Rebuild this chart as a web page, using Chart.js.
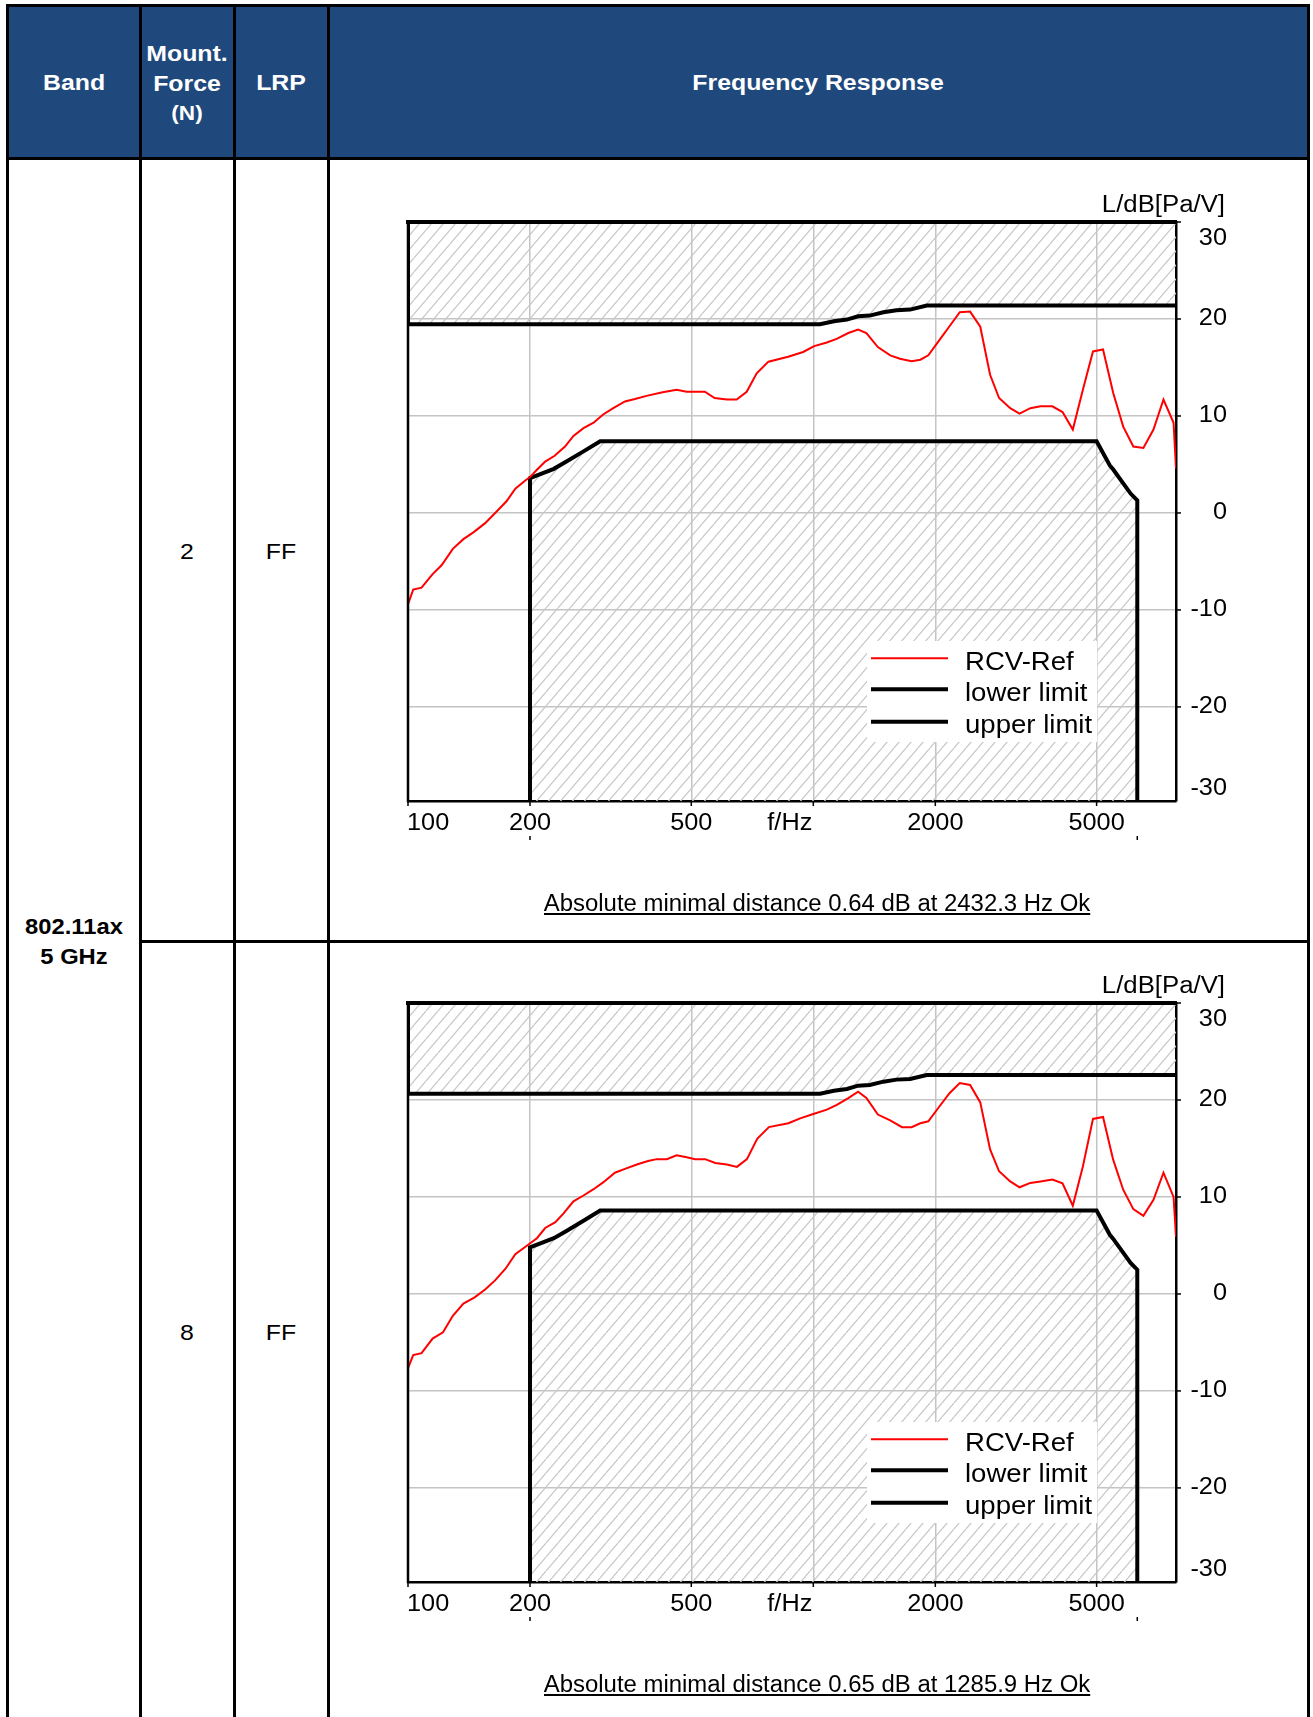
<!DOCTYPE html>
<html>
<head>
<meta charset="utf-8">
<title>Frequency Response</title>
<script src="https://cdn.jsdelivr.net/npm/chart.js@4.4.1/dist/chart.umd.min.js"></script>
<style>
  html, body { margin: 0; padding: 0; background: #fff; }
  body { width: 1313px; height: 1717px; position: relative; overflow: hidden;
         font-family: "Liberation Sans", Arial, sans-serif; }
  .hdr { position: absolute; left: 6px; top: 4px; width: 1304px; height: 156px; background: #1f497d; }
  .ln { position: absolute; background: #000; }
  .t { position: absolute; white-space: nowrap; }
  .cap { position: absolute; white-space: nowrap; font-size: 23px; line-height: 23px; color: #000;
         text-decoration: underline; text-decoration-thickness: 1.5px; text-underline-offset: 2px; }
  canvas { position: absolute; }
</style>
</head>
<body>
<div class="hdr"></div>

<canvas id="fr1" width="976" height="780" style="left:330px;top:160px;width:976px;height:780px;"></canvas>
<canvas id="fr2" width="976" height="780" style="left:330px;top:941px;width:976px;height:780px;"></canvas>

<!-- table grid -->
<div class="ln" style="left:6px;top:4px;width:1304px;height:3px;"></div>
<div class="ln" style="left:6px;top:157px;width:1304px;height:3px;"></div>
<div class="ln" style="left:6px;top:4px;width:3px;height:1713px;"></div>
<div class="ln" style="left:1307px;top:4px;width:3px;height:1713px;"></div>
<div class="ln" style="left:139px;top:4px;width:3px;height:1713px;"></div>
<div class="ln" style="left:233px;top:4px;width:3px;height:1713px;"></div>
<div class="ln" style="left:327px;top:4px;width:3px;height:1713px;"></div>
<div class="ln" style="left:139px;top:940px;width:1171px;height:3px;"></div>

<!-- header -->
<div class="t" style="left:73.5px;top:72.1px;font-size:22px;line-height:22px;font-weight:700;color:#fff;transform:translateX(-50%) scaleX(1.13);">Band</div>
<div class="t" style="left:187px;top:42.9px;font-size:22px;line-height:22px;font-weight:700;color:#fff;transform:translateX(-50%) scaleX(1.13);">Mount.</div>
<div class="t" style="left:187px;top:72.6px;font-size:22px;line-height:22px;font-weight:700;color:#fff;transform:translateX(-50%) scaleX(1.13);">Force</div>
<div class="t" style="left:187px;top:103.1px;font-size:20px;line-height:20px;font-weight:700;color:#fff;transform:translateX(-50%) scaleX(1.13);">(N)</div>
<div class="t" style="left:281px;top:72.1px;font-size:22px;line-height:22px;font-weight:700;color:#fff;transform:translateX(-50%) scaleX(1.13);">LRP</div>
<div class="t" style="left:818px;top:72.1px;font-size:22px;line-height:22px;font-weight:700;color:#fff;transform:translateX(-50%) scaleX(1.13);">Frequency Response</div>

<!-- body cells -->
<div class="t" style="left:187px;top:540.7px;font-size:22px;line-height:22px;color:#000;transform:translateX(-50%) scaleX(1.13);">2</div>
<div class="t" style="left:281px;top:540.7px;font-size:22px;line-height:22px;color:#000;transform:translateX(-50%) scaleX(1.13);">FF</div>
<div class="t" style="left:187px;top:1322.4px;font-size:22px;line-height:22px;color:#000;transform:translateX(-50%) scaleX(1.13);">8</div>
<div class="t" style="left:281px;top:1322.4px;font-size:22px;line-height:22px;color:#000;transform:translateX(-50%) scaleX(1.13);">FF</div>
<div class="t" style="left:73.5px;top:916.4px;font-size:22px;line-height:22px;font-weight:700;color:#000;transform:translateX(-50%) scaleX(1.08);">802.11ax</div>
<div class="t" style="left:73.5px;top:945.7px;font-size:22px;line-height:22px;font-weight:700;color:#000;transform:translateX(-50%) scaleX(1.08);">5 GHz</div>

<!-- result captions -->
<div class="cap" style="left:817px;top:892.2px;transform:translateX(-50%) scaleX(1.04);">Absolute minimal distance 0.64 dB at 2432.3 Hz Ok</div>
<div class="cap" style="left:817px;top:1673px;transform:translateX(-50%) scaleX(1.04);">Absolute minimal distance 0.65 dB at 1285.9 Hz Ok</div>

<script>
// ---- axis definitions ----
const xTickValues = [100, 200, 500, 1000, 2000, 5000];
const xTickLabels = ['100', '200', '500', 'f/Hz', '2000', '5000'];
const yTickValues = [-30, -20, -10, 0, 10, 20, 30];
const yAxisTitle = 'L/dB[Pa/V]';
const seriesNames = ['RCV-Ref', 'lower limit', 'upper limit'];

// ---- measured response, 2 N mounting force ----
const rcvFreq1 = [
  100, 103, 108, 115, 121, 129, 137, 145, 155, 165,
  175, 184, 194, 200, 208, 218, 230, 244, 256, 271,
  287, 303, 321, 343, 363, 390, 425, 460, 487, 540,
  571, 612, 647, 685, 725, 775, 867, 944, 1005, 1075,
  1142, 1220, 1290, 1352, 1443, 1548, 1636, 1748, 1837, 1922,
  2036, 2168, 2298, 2437, 2582, 2730, 2873, 3061, 3227, 3432,
  3635, 3889, 4120, 4368, 4625, 4898, 5186, 5493, 5816, 6160,
  6522, 6907, 7311, 7742, 7850
];
const rcvLevel1 = [
  -9.4, -7.9, -7.7, -6.3, -5.4, -3.7, -2.7, -2.0, -1.05, 0.1,
  1.2, 2.5, 3.3, 3.7, 4.45, 5.3, 5.9, 6.85, 7.95, 8.75,
  9.3, 10.15, 10.8, 11.5, 11.75, 12.1, 12.45, 12.7, 12.5, 12.5,
  11.85, 11.7, 11.7, 12.5, 14.4, 15.6, 16.1, 16.6, 17.2, 17.55,
  17.95, 18.55, 18.9, 18.55, 17.1, 16.25, 15.9, 15.65, 15.8, 16.25,
  17.7, 19.25, 20.7, 20.76, 19.2, 14.25, 11.85, 10.8, 10.25, 10.8,
  11.0, 11.0, 10.4, 8.6, 12.7, 16.65, 16.85, 12.4, 8.9, 6.85,
  6.7, 8.6, 11.7, 9.3, 4.6
];

// ---- measured response, 8 N mounting force ----
const rcvFreq2 = [
  100, 103, 108, 115, 122, 129, 137, 146, 155, 164,
  174, 184, 196, 208, 218, 231, 242, 256, 271, 287,
  303, 324, 343, 367, 391, 411, 435, 460, 487, 511,
  541, 573, 612, 648, 686, 727, 777, 868, 928, 1000,
  1080, 1143, 1220, 1290, 1352, 1443, 1548, 1655, 1748, 1837,
  1922, 2036, 2168, 2298, 2437, 2582, 2730, 2873, 3061, 3227,
  3432, 3635, 3889, 4120, 4368, 4625, 4898, 5186, 5493, 5816,
  6160, 6522, 6907, 7311, 7742, 7850
];
const rcvLevel2 = [
  -7.65, -6.3, -6.1, -4.6, -3.95, -2.25, -1.0, -0.35, 0.45, 1.4,
  2.6, 4.1, 4.95, 5.75, 6.8, 7.4, 8.3, 9.55, 10.15, 10.8,
  11.5, 12.5, 12.9, 13.35, 13.7, 13.9, 13.9, 14.3, 14.1, 13.9,
  13.9, 13.5, 13.35, 13.1, 13.9, 16.0, 17.2, 17.6, 18.1, 18.55,
  19.0, 19.5, 20.2, 20.85, 20.2, 18.5, 17.9, 17.2, 17.2, 17.6,
  17.8, 19.2, 20.7, 21.75, 21.55, 19.75, 14.9, 12.65, 11.6, 11.0,
  11.45, 11.6, 11.8, 11.4, 9.1, 13.15, 18.05, 18.25, 13.85, 10.75,
  8.75, 8.05, 9.7, 12.5, 10.0, 5.9
];

// ---- tolerance masks ----
const lowerFreq = [200, 200, 229, 246, 271, 298, 5000, 5390, 5490, 6065, 6300, 6300];
const lowerLevel1 = [-30, 3.6, 4.55, 5.3, 6.35, 7.4, 7.4, 4.9, 4.5, 2.0, 1.3, -30];
const lowerLevel2 = [-30, 4.8, 5.75, 6.5, 7.55, 8.6, 8.6, 6.1, 5.7, 3.2, 2.5, -30];

const upperFreq = [100, 100, 1039, 1124, 1210, 1290, 1378, 1489, 1604, 1733, 1905, 7850];
const upperLevel1 = [30, 19.45, 19.45, 19.76, 19.94, 20.28, 20.35, 20.69, 20.9, 20.97, 21.38, 21.38];
const upperLevel2 = [30, 20.65, 20.65, 20.96, 21.14, 21.48, 21.55, 21.89, 22.1, 22.17, 22.58, 22.58];

const FONT = '"Liberation Sans", Arial, sans-serif';

// diagonal hatching for the out-of-tolerance regions
function hatchPattern() {
  const w = 12, h = 14;
  const c = document.createElement('canvas');
  c.width = w; c.height = h;
  const g = c.getContext('2d');
  g.strokeStyle = '#c8c8c8';
  g.lineWidth = 1.2;
  g.beginPath();
  g.moveTo(-w, h); g.lineTo(0, 0);
  g.moveTo(0, h); g.lineTo(w, 0);
  g.moveTo(w, h); g.lineTo(2 * w, 0);
  g.stroke();
  return g.createPattern(c, 'repeat');
}

function pts(xs, ys) { return xs.map((x, i) => ({ x: x, y: ys[i] })); }

function stretchedText(ctx, text, x, y, align, baseline, font, sx) {
  ctx.save();
  ctx.font = font;
  ctx.textAlign = align;
  ctx.textBaseline = baseline;
  ctx.translate(x, y);
  ctx.scale(sx, 1);
  ctx.fillText(text, 0, 0);
  ctx.restore();
}

// frame, tick labels, tick marks and legend
const decor = {
  id: 'decor',
  afterDatasetsDraw(chart) {
    const ctx = chart.ctx;
    const a = chart.chartArea;
    const xs = chart.scales.x, ys = chart.scales.y;
    ctx.save();
    ctx.fillStyle = '#000';
    ctx.strokeStyle = '#000';

    // left axis (thin) and top frame (thick)
    ctx.lineWidth = 2.5;
    ctx.beginPath(); ctx.moveTo(a.left, a.top); ctx.lineTo(a.left, a.bottom + 1); ctx.stroke();
    ctx.lineWidth = 4;
    ctx.beginPath(); ctx.moveTo(a.left - 2, a.top); ctx.lineTo(a.right + 1, a.top); ctx.stroke();

    // x tick marks and labels
    ctx.lineWidth = 1.5;
    const tickFont = '23px ' + FONT;
    xTickValues.forEach((v, i) => {
      const px = xs.getPixelForValue(v);
      ctx.beginPath(); ctx.moveTo(px, a.bottom); ctx.lineTo(px, a.bottom + 5); ctx.stroke();
      const lab = xTickLabels[i];
      if (i === 0) stretchedText(ctx, lab, a.left - 1, a.bottom + 29, 'left', 'alphabetic', tickFont, 1.1);
      else if (lab === 'f/Hz') stretchedText(ctx, lab, px - 1, a.bottom + 29, 'right', 'alphabetic', tickFont, 1.1);
      else stretchedText(ctx, lab, px, a.bottom + 29, 'center', 'alphabetic', tickFont, 1.1);
    });
    // small markers below the mask edges
    const marks = chart.options.plugins.decor.marks;
    ctx.lineWidth = 1.5;
    marks.forEach(v => {
      const px = xs.getPixelForValue(v);
      ctx.beginPath(); ctx.moveTo(px, a.bottom + 35); ctx.lineTo(px, a.bottom + 39); ctx.stroke();
    });

    // y tick marks and labels (right side)
    yTickValues.forEach(v => {
      const py = ys.getPixelForValue(v);
      if (py >= a.top - 1 && py <= a.bottom + 1) {
        ctx.beginPath(); ctx.moveTo(a.right, py); ctx.lineTo(a.right + 5, py); ctx.stroke();
      }
      const ly = Math.min(Math.max(py, a.top + 17), a.bottom - 12);
      stretchedText(ctx, String(v), a.right + 51, ly, 'right', 'middle', tickFont, 1.1);
    });
    stretchedText(ctx, yAxisTitle, a.right + 49, a.top - 10.5, 'right', 'alphabetic', tickFont, 1.12);

    // legend
    const bx = a.right - 309, by = a.top + 419, bw = 230, bh = 101;
    ctx.fillStyle = '#fff';
    ctx.fillRect(bx, by, bw, bh);
    const rows = [17.3, 48.3, 80.7];
    chart.data.datasets.forEach((ds, i) => {
      const ly = by + rows[i];
      ctx.strokeStyle = ds.borderColor;
      ctx.lineWidth = ds.borderWidth;
      ctx.beginPath(); ctx.moveTo(bx + 4, ly); ctx.lineTo(bx + 81, ly); ctx.stroke();
      ctx.fillStyle = '#000';
      stretchedText(ctx, ds.label, bx + 98, ly + 11.5, 'left', 'alphabetic', '26px ' + FONT, 1.06);
    });
    ctx.restore();
  }
};

function frChart(id, rf, rl, ll, ul) {
  const hatch = hatchPattern();
  return new Chart(document.getElementById(id), {
    type: 'line',
    data: {
      datasets: [
        { label: seriesNames[0], data: pts(rf, rl), borderColor: '#ff0000', borderWidth: 2,
          pointRadius: 0, fill: false, tension: 0 },
        { label: seriesNames[1], data: pts(lowerFreq, ll), borderColor: '#000000', borderWidth: 4,
          pointRadius: 0, fill: 'start', backgroundColor: hatch, tension: 0, borderJoinStyle: 'miter' },
        { label: seriesNames[2], data: pts(upperFreq, ul), borderColor: '#000000', borderWidth: 4,
          pointRadius: 0, fill: 'end', backgroundColor: hatch, tension: 0, borderJoinStyle: 'miter' }
      ]
    },
    options: {
      responsive: false,
      animation: false,
      events: [],
      layout: { padding: { left: 78, top: 62, right: 130, bottom: 139 }, autoPadding: false },
      plugins: {
        legend: { display: false },
        tooltip: { enabled: false },
        decor: { marks: [lowerFreq[0], lowerFreq[lowerFreq.length - 1]] }
      },
      scales: {
        x: {
          type: 'logarithmic', min: 100, max: 7850, position: 'bottom',
          afterBuildTicks: s => { s.ticks = xTickValues.map(v => ({ value: v })); },
          ticks: { display: false },
          grid: { color: '#c4c4c4', lineWidth: 1.5, drawTicks: false },
          border: { display: true, color: '#000', width: 2.5 }
        },
        y: {
          type: 'linear', min: -29.7, max: 30, position: 'right',
          afterBuildTicks: s => { s.ticks = yTickValues.filter(v => v >= -29.7 && v <= 30).map(v => ({ value: v })); },
          ticks: { display: false },
          grid: { color: '#c4c4c4', lineWidth: 1.5, drawTicks: false },
          border: { display: true, color: '#000', width: 2.5 }
        }
      }
    },
    plugins: [decor]
  });
}

frChart('fr1', rcvFreq1, rcvLevel1, lowerLevel1, upperLevel1);
frChart('fr2', rcvFreq2, rcvLevel2, lowerLevel2, upperLevel2);
</script>
</body>
</html>
